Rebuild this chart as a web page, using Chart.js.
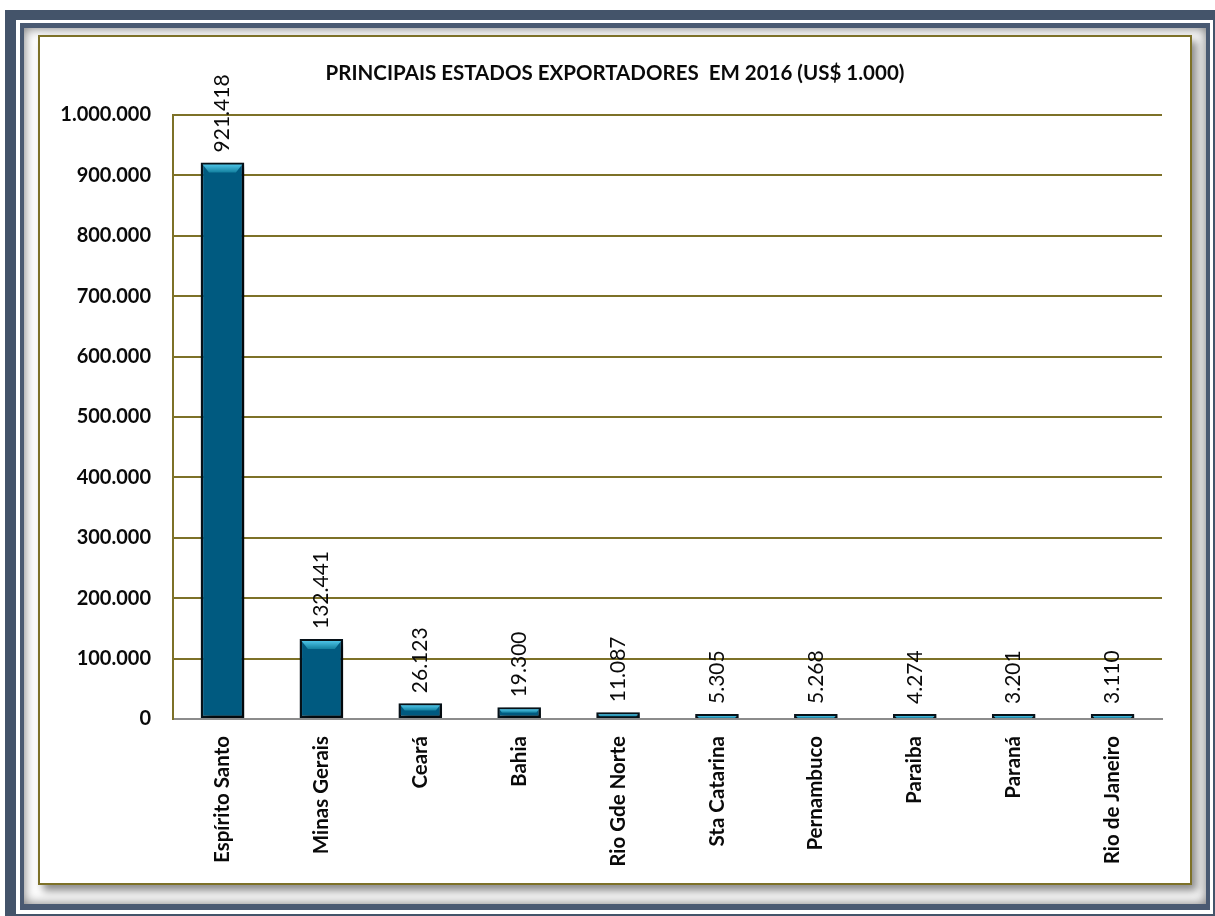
<!DOCTYPE html>
<html lang="pt-BR">
<head>
<meta charset="utf-8">
<title>Principais estados exportadores em 2016</title>
<script src="https://cdn.jsdelivr.net/npm/chart.js@4.4.1/dist/chart.umd.min.js"></script>
<style>
  html, body { margin: 0; padding: 0; background: #fff; }
  body { width: 1215px; height: 916px; position: relative; overflow: hidden; }
  .box { position: absolute; box-sizing: border-box; }
  #frameOuter { left: 5px; top: 10px; width: 1215px; height: 910px; background: #44546a; }
  #frameGap { left: 16px; top: 20px; width: 1197px; height: 894px; background: #fff; }
  #frameInner { left: 20px; top: 23px; width: 1190px; height: 887px; background: #4a5a72; }
  #framePanel { left: 24px; top: 28px; width: 1182px; height: 876px; background: #fff;
                box-shadow: inset 0 0 12px rgba(0,0,0,.55); }
  #chartBox { left: 38px; top: 35px; width: 1154px; height: 850px; background: #fff;
              border: 2px solid #7d7128; box-shadow: 5px 6px 8px rgba(0,0,0,.45); }
  #chartBox canvas { display: block; }
</style>
</head>
<body>
<div class="box" id="frameOuter"></div>
<div class="box" id="frameGap"></div>
<div class="box" id="frameInner"></div>
<div class="box" id="framePanel"></div>
<div class="box" id="chartBox"><canvas id="exportChart" width="1150" height="846"></canvas></div>

<script>
// ── Dados ──────────────────────────────────────
const estados = ['Espírito Santo', 'Minas Gerais', 'Ceará', 'Bahia', 'Rio Gde Norte',
                 'Sta Catarina', 'Pernambuco', 'Paraiba', 'Paraná', 'Rio de Janeiro'];
const exportacoes = [921418, 132441, 26123, 19300, 11087, 5305, 5268, 4274, 3201, 3110];
const eixoY = { min: 0, max: 1000000, step: 100000 };

const OLIVE = '#7d7128';
const FONT = 'Lato, "Open Sans", sans-serif';

// 1234567 -> "1.234.567"
function fmtBR(v) {
    return String(Math.round(v)).replace(/\B(?=(\d{3})+(?!\d))/g, '.');
}

// ── Título centrado no quadro inteiro ──────────
const titleShift = {
    id: 'titleShift',
    afterLayout(chart) {
        const tb = chart.titleBlock;
        if (tb) { tb.left += 14; tb.right += 14; }
    }
};

// ── Sombra das barras ──────────────────────────
const barShadow = {
    id: 'barShadow',
    beforeDatasetDraw(chart) {
        const ctx = chart.ctx;
        ctx.save();
        ctx.shadowColor = 'rgba(0,0,0,.6)';
        ctx.shadowBlur = 6;
        ctx.shadowOffsetX = 5;
        ctx.shadowOffsetY = 3;
    },
    afterDatasetDraw(chart) {
        chart.ctx.restore();
    }
};

// ── Chanfro claro no topo + rótulos de valor ───
const barDecor = {
    id: 'barDecor',
    afterDatasetsDraw(chart) {
        const ctx = chart.ctx;
        const meta = chart.getDatasetMeta(0);
        meta.data.forEach((bar, i) => {
            const { x, y, base, width } = bar.getProps(['x', 'y', 'base', 'width'], true);
            const l = x - width / 2 + 2, r = x + width / 2 - 2;
            const h = Math.max(2, Math.min(8, (base - y - 4) / 2));
            const t = y + 2;
            const g = ctx.createLinearGradient(0, t, 0, t + h);
            g.addColorStop(0, '#4cc3e6');
            g.addColorStop(1, '#13809f');
            ctx.save();
            ctx.fillStyle = g;
            ctx.beginPath();
            ctx.moveTo(l, t);
            ctx.lineTo(r, t);
            ctx.lineTo(r - h * 0.8, t + h);
            ctx.lineTo(l + h * 0.8, t + h);
            ctx.closePath();
            ctx.fill();
            ctx.restore();

            // valor escrito na vertical acima da barra
            ctx.save();
            ctx.translate(x, y - 10);
            ctx.rotate(-Math.PI / 2);
            ctx.font = '21px ' + FONT;
            ctx.fillStyle = '#0a0a0a';
            ctx.textAlign = 'left';
            ctx.textBaseline = 'middle';
            ctx.fillText(fmtBR(exportacoes[i]), 0, 0);
            ctx.restore();
        });
    }
};

new Chart(document.getElementById('exportChart'), {
    type: 'bar',
    data: {
        labels: estados,
        datasets: [{
            data: exportacoes,
            backgroundColor: '#005a80',
            borderColor: '#071219',
            borderWidth: 2.5,
            borderSkipped: false,
            barPercentage: 0.9,
            categoryPercentage: 0.49,
            minBarLength: 5
        }]
    },
    options: {
        responsive: false,
        animation: false,
        layout: { padding: { left: 0, right: 28, top: 0, bottom: 0 } },
        plugins: {
            legend: { display: false },
            tooltip: { enabled: false },
            title: {
                display: true,
                text: 'PRINCIPAIS ESTADOS EXPORTADORES  EM 2016 (US$ 1.000)',
                color: '#0a0a0a',
                font: { family: FONT, size: 20.5, weight: 'bold', lineHeight: 1.2 },
                padding: { top: 24, bottom: 29.4 }
            }
        },
        scales: {
            x: {
                grid: { display: false },
                border: { display: true, color: '#8c8c8c', width: 2 },
                ticks: {
                    color: '#0a0a0a',
                    font: { family: FONT, size: 20.5, weight: 'bold' },
                    minRotation: 90, maxRotation: 90,
                    padding: 9
                },
                afterFit(scale) { scale.height = 164; }
            },
            y: {
                min: eixoY.min, max: eixoY.max,
                grid: {
                    color: c => c.tick && c.tick.value === 0 ? '#8c8c8c' : OLIVE,
                    lineWidth: 2,
                    drawTicks: false
                },
                border: { display: true, color: OLIVE, width: 2 },
                ticks: {
                    stepSize: eixoY.step,
                    color: '#0a0a0a',
                    font: { family: FONT, size: 20, weight: 'bold' },
                    padding: 22,
                    callback: v => fmtBR(v)
                },
                afterFit(scale) { scale.width = 133; }
            }
        }
    },
    plugins: [titleShift, barShadow, barDecor]
});
</script>
</body>
</html>
